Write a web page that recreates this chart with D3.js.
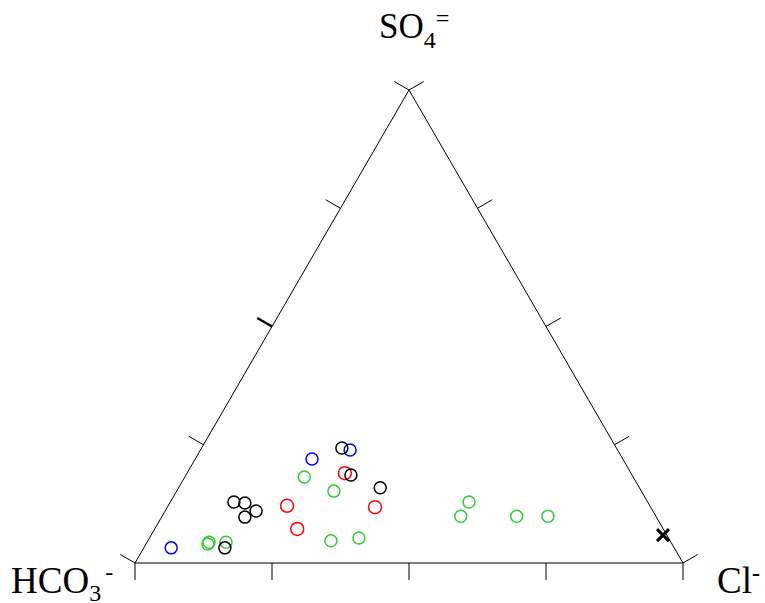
<!DOCTYPE html>
<html>
<head>
<meta charset="utf-8">
<script src="https://cdn.jsdelivr.net/npm/d3@7"></script>
<style>
  body { margin: 0; background: #fff; }
  svg { display: block; }
  text { font-family: "Liberation Serif", "Times New Roman", serif; fill: #000; }
</style>
</head>
<body>
<div id="chart"></div>
<script>
// anion ternary: values in percent (HCO3 = 100 - Cl - SO4)
var blueCl  = [5.0, 21.3, 27.3];
var blueSO4 = [3.2, 22.0, 23.9];

var greenCl  = [11.3, 11.3, 14.4, 21.8, 28.7, 33.4, 38.2, 54.5, 54.5, 64.7, 70.4];
var greenSO4 = [4.0, 4.4, 4.4, 18.2, 15.2, 4.7, 5.3, 12.9, 9.9, 9.9, 9.9];

var redCl  = [28.8, 21.7, 26.0, 37.9];
var redSO4 = [19.0, 12.1, 7.2, 11.8];

var blackCl  = [11.6, 13.7, 16.6, 15.2, 14.8, 25.6, 30.1, 36.8];
var blackSO4 = [12.9, 12.7, 11.0, 9.7, 3.2, 24.3, 18.6, 15.9];

var crossCl  = [93.4];
var crossSO4 = [5.9];

var tickValues = [0, 25, 50, 75, 100];

var width = 765, height = 603;

var svg = d3.select("#chart").append("svg")
    .attr("width", width)
    .attr("height", height);

// base line goes 0..100 left to right, height 0..100 bottom to top
var x = d3.scaleLinear().domain([0, 100]).range([135, 683]);
var y = d3.scaleLinear().domain([0, 100]).range([563, 90]);

function px(cl, so4) { return x(cl + so4 / 2); }
function py(so4) { return y(so4); }

var tickLen = 17;

// triangle outline
var corners = [[0, 0], [100, 0], [0, 100]];
svg.append("path")
    .attr("d", "M" + corners.map(function(c){ return px(c[0], c[1]) + "," + py(c[1]); }).join("L") + "Z")
    .attr("fill", "none")
    .attr("stroke", "#000")
    .attr("stroke-width", 1);

// bottom ticks (down)
svg.selectAll(".tb")
    .data(tickValues)
    .enter().append("line")
    .attr("x1", function(d){ return px(d, 0); })
    .attr("x2", function(d){ return px(d, 0); })
    .attr("y1", py(0))
    .attr("y2", py(0) + tickLen)
    .attr("stroke", "#000");

// left edge ticks (outward normal)
var nx = Math.cos(Math.PI / 6), ny = Math.sin(Math.PI / 6);
svg.selectAll(".tl")
    .data(tickValues)
    .enter().append("line")
    .attr("x1", function(d){ return px(0, d); })
    .attr("y1", function(d){ return py(d); })
    .attr("x2", function(d){ return px(0, d) - tickLen * nx; })
    .attr("y2", function(d){ return py(d) - tickLen * ny; })
    .attr("stroke", "#000")
    .attr("stroke-width", function(d){ return d == 50 ? 2.5 : 1; });

// right edge ticks
svg.selectAll(".tr")
    .data(tickValues)
    .enter().append("line")
    .attr("x1", function(d){ return px(100 - d, d); })
    .attr("y1", function(d){ return py(d); })
    .attr("x2", function(d){ return px(100 - d, d) + tickLen * nx; })
    .attr("y2", function(d){ return py(d) - tickLen * ny; })
    .attr("stroke", "#000");

// points
function drawSeries(cl, so4, color, r) {
    svg.append("g").selectAll("circle")
        .data(d3.zip(cl, so4))
        .enter().append("circle")
        .attr("cx", function(d){ return px(d[0], d[1]); })
        .attr("cy", function(d){ return py(d[1]); })
        .attr("r", r)
        .attr("fill", "none")
        .attr("stroke", color)
        .attr("stroke-width", 1.5);
}
drawSeries(greenCl, greenSO4, "#33cc33", 6);
drawSeries(redCl, redSO4, "#ff0000", 6.5);
drawSeries(blueCl, blueSO4, "#0000ff", 6);
drawSeries(blackCl, blackSO4, "#000000", 6);

// cross marker
svg.append("g").selectAll("path")
    .data(d3.zip(crossCl, crossSO4))
    .enter().append("path")
    .attr("transform", function(d){ return "translate(" + px(d[0], d[1]) + "," + py(d[1]) + ")"; })
    .attr("d", "M-6,-6L6,6M-6,6L6,-6")
    .attr("stroke", "#000")
    .attr("stroke-width", 3);

// labels
var topLabel = svg.append("text").attr("x", 379).attr("y", 38).style("font-size", "35px");
topLabel.append("tspan").text("SO");
topLabel.append("tspan").attr("dy", 10).style("font-size", "24px").text("4");
topLabel.append("tspan").attr("dy", -22).style("font-size", "24px").text("=");

var leftLabel = svg.append("text").attr("x", 11).attr("y", 593).style("font-size", "37px");
leftLabel.append("tspan").text("HCO");
leftLabel.append("tspan").attr("dy", 8).style("font-size", "24px").text("3");
leftLabel.append("tspan").attr("dy", -21).attr("dx", 4).style("font-size", "24px").text("-");

var rightLabel = svg.append("text").attr("x", 717).attr("y", 593).style("font-size", "37px");
rightLabel.append("tspan").text("Cl");
rightLabel.append("tspan").attr("dy", -12).style("font-size", "24px").style("font-weight", "bold").text("-");
</script>
</body>
</html>
